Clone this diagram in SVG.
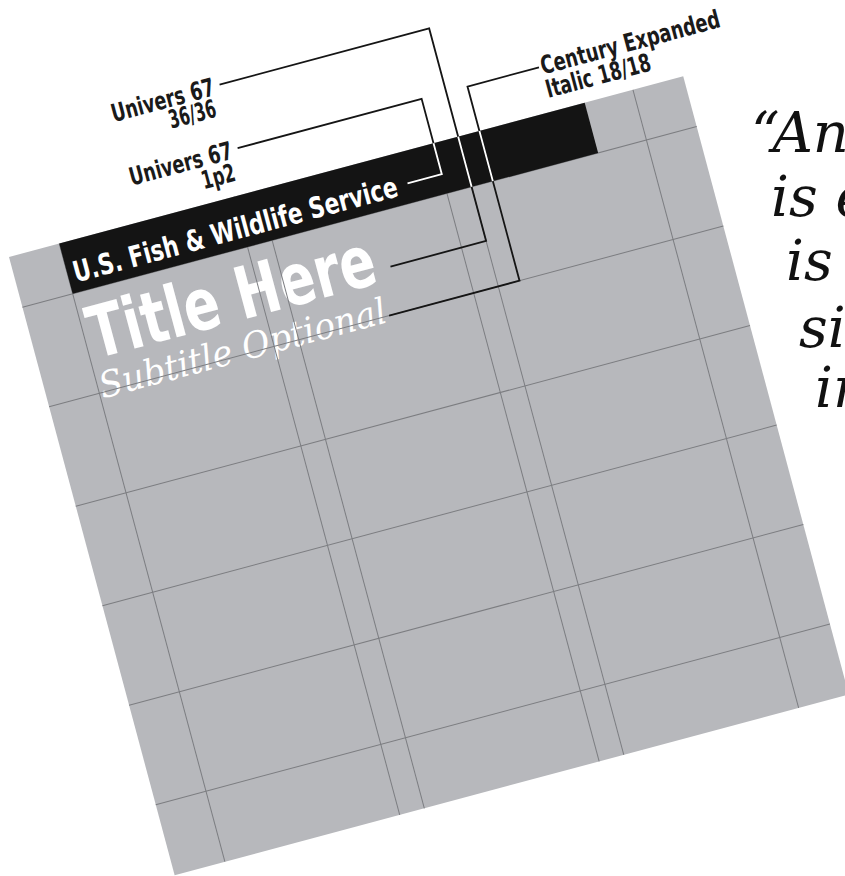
<svg xmlns="http://www.w3.org/2000/svg" width="845" height="876" viewBox="0 0 845 876">
<defs>
<style>
.sheet{fill:#b7b8bc}
.grid{stroke:#7c7d81;stroke-width:1;fill:none}
.bar{fill:#141414}
.lead{stroke:#151515;stroke-width:1.8;fill:none;stroke-linejoin:miter}
.leadw{stroke:#ffffff;stroke-width:1.8;fill:none;stroke-linejoin:miter}
.cond{font-family:"Liberation Sans Narrow","DejaVu Sans Condensed","Liberation Sans",sans-serif;font-weight:bold;font-stretch:condensed}
.lbl{font-size:25px;fill:#1a1a1a}
.sub{font-family:"DejaVu Serif","Liberation Serif",serif;font-style:italic;font-size:36px;fill:#ffffff}
.quote{font-family:"DejaVu Serif","Liberation Serif",serif;font-style:italic;font-size:56px;fill:#111111}
</style>
<clipPath id="barclip"><rect x="52" y="0" width="544" height="52"/></clipPath>
</defs>
<g transform="translate(9,257) rotate(-15)">
  <g id="sheet"><rect class="sheet" x="0" y="0" width="698" height="640"/></g>
  <g id="title-block">
    <text class="cond" x="57" y="121" font-size="72" fill="#ffffff" textLength="295" lengthAdjust="spacingAndGlyphs">Title Here</text>
    <text class="sub" x="54" y="161" textLength="296" lengthAdjust="spacingAndGlyphs">Subtitle Optional</text>
  </g>
  <g id="grid">
    <line class="grid" x1="52" y1="0" x2="52" y2="640"/>
    <line class="grid" x1="233" y1="0" x2="233" y2="640"/>
    <line class="grid" x1="258.5" y1="0" x2="258.5" y2="640"/>
    <line class="grid" x1="439.5" y1="0" x2="439.5" y2="640"/>
    <line class="grid" x1="465" y1="0" x2="465" y2="640"/>
    <line class="grid" x1="646" y1="0" x2="646" y2="640"/>
    <line class="grid" x1="0" y1="52" x2="698" y2="52"/>
    <line class="grid" x1="0" y1="155" x2="698" y2="155"/>
    <line class="grid" x1="0" y1="258" x2="698" y2="258"/>
    <line class="grid" x1="0" y1="361" x2="698" y2="361"/>
    <line class="grid" x1="0" y1="464" x2="698" y2="464"/>
    <line class="grid" x1="0" y1="567" x2="698" y2="567"/>
  </g>
  <g id="header-bar">
    <rect class="bar" x="52" y="0" width="544" height="52"/>
    <text class="cond" x="58" y="42" font-size="29" fill="#ffffff" textLength="335" lengthAdjust="spacingAndGlyphs">U.S. Fish &amp; Wildlife Service</text>
  </g>
  <g id="label-title">
    <text class="cond lbl" x="242" y="-103" text-anchor="end" textLength="106" lengthAdjust="spacingAndGlyphs">Univers 67</text>
    <text class="cond lbl" x="238" y="-82" text-anchor="end" textLength="48" lengthAdjust="spacingAndGlyphs">36/36</text>
  </g>
  <g id="label-header">
    <text class="cond lbl" x="243" y="-37" text-anchor="end" textLength="106" lengthAdjust="spacingAndGlyphs">Univers 67</text>
    <text class="cond lbl" x="240" y="-15" text-anchor="end" textLength="34" lengthAdjust="spacingAndGlyphs">1p2</text>
  </g>
  <g id="label-subtitle">
    <text class="cond lbl" x="563" y="-38" textLength="185" lengthAdjust="spacingAndGlyphs">Century Expanded</text>
    <text class="cond lbl" x="562" y="-14" textLength="108" lengthAdjust="spacingAndGlyphs">Italic 18/18</text>
  </g>
  <g id="connectors">
    <polyline class="lead" points="248,-112 465,-112 465,108 366,108"/>
    <polyline class="lead" points="249,-46 439.5,-46 439.5,32 404,32"/>
    <polyline class="lead" points="561,-46 487,-46 487,155 352,155"/>
    <g clip-path="url(#barclip)">
      <polyline class="leadw" points="248,-112 465,-112 465,108 366,108"/>
      <polyline class="leadw" points="249,-46 439.5,-46 439.5,32 404,32"/>
      <polyline class="leadw" points="561,-46 487,-46 487,155 352,155"/>
    </g>
  </g>
</g>
<g id="quote">
  <text class="quote" x="751" y="152">“An</text>
  <text class="quote" x="771" y="216">is e</text>
  <text class="quote" x="786" y="280">is</text>
  <text class="quote" x="799" y="347">si</text>
  <text class="quote" x="815" y="407">in</text>
</g>
</svg>
